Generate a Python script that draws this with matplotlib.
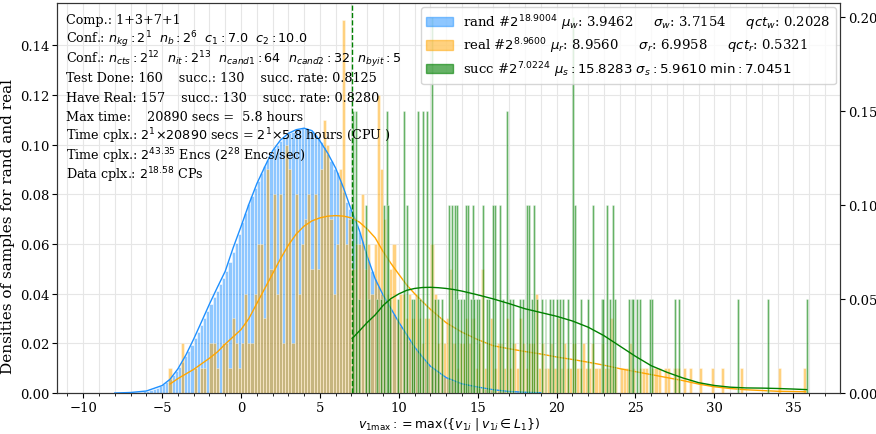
import numpy as np
import matplotlib
matplotlib.use('Agg')
import matplotlib.pyplot as plt
from matplotlib.patches import Patch
from matplotlib.ticker import MultipleLocator

plt.rcParams['font.family'] = 'DejaVu Serif'
plt.rcParams['mathtext.fontset'] = 'dejavusans'

# ---- rand: density of each 0.2 bin, first bin starts at -8.0
rand_start = -8.0
rand_dens = [
    0.0000, 0.0001, 0.0001, 0.0001, 0.0002,
    0.0002, 0.0003, 0.0004, 0.0005, 0.0007,
    0.0009, 0.0012, 0.0016, 0.0021, 0.0027,
    0.0035, 0.0045, 0.0057, 0.0071, 0.0087,
    0.0105, 0.0125, 0.0147, 0.0170, 0.0194,
    0.0220, 0.0246, 0.0274, 0.0302, 0.0330,
    0.0358, 0.0385, 0.0412, 0.0438, 0.0464,
    0.0492, 0.0528, 0.0566, 0.0604, 0.0642,
    0.0690, 0.0725, 0.0760, 0.0795, 0.0826,
    0.0855, 0.0885, 0.0912, 0.0938, 0.0962,
    0.0985, 0.1000, 0.1014, 0.1026, 0.1036,
    0.1045, 0.1052, 0.1058, 0.1063, 0.1066,
    0.1066, 0.1062, 0.1054, 0.1044, 0.1030,
    0.1012, 0.0990, 0.0964, 0.0934, 0.0900,
    0.0890, 0.0850, 0.0810, 0.0770, 0.0740,
    0.0710, 0.0680, 0.0650, 0.0610, 0.0570,
    0.0530, 0.0490, 0.0460, 0.0430, 0.0400,
    0.0380, 0.0360, 0.0340, 0.0320, 0.0290,
    0.0270, 0.0250, 0.0230, 0.0210, 0.0190,
    0.0175, 0.0160, 0.0145, 0.0130, 0.0115,
    0.0102, 0.0091, 0.0081, 0.0072, 0.0065,
    0.0059, 0.0054, 0.0049, 0.0045, 0.0041,
    0.0037, 0.0034, 0.0031, 0.0028, 0.0025,
    0.0022, 0.0020, 0.0018, 0.0016, 0.0014,
    0.0012, 0.0010, 0.0009, 0.0008, 0.0007,
    0.0006, 0.0005, 0.0004, 0.0003, 0.0003,
    0.0002, 0.0002, 0.0001, 0.0001, 0.0001,
]

# ---- real: sample count of each 0.2 bin, first bin starts at -4.6
real_start = -4.6
real_cnt = [
    1, 0, 0, 0, 2,   0, 0, 0, 1, 0,   1, 1, 0, 2, 2,   1, 0, 2, 2, 1,
    3, 2, 1, 2, 4,   2, 2, 4, 6, 6,   3, 9, 5, 8, 4,   8, 2, 10, 9, 2,
    8, 4, 6, 7, 8,   5, 8, 5, 9, 11,  10, 7, 4, 6, 9,  15, 6, 7, 5, 6,
    6, 8, 5, 6, 4,   6, 12, 9, 7, 4,  5, 6, 3, 4, 4,   3, 4, 3, 4, 3,
    2, 3, 3, 6, 4,   2, 3, 2, 3, 5,   2, 1, 2, 2, 3,   2, 3, 1, 2, 5,
    1, 2, 3, 1, 2,   2, 1, 3, 1, 2,   1, 3, 2, 1, 2,   2, 4, 1, 2, 1,
    1, 2, 1, 3, 1,   2, 1, 1, 2, 1,   1, 2, 1, 1, 2,   1, 1, 2, 1, 1,
    3, 1, 0, 1, 1,   1, 2, 1, 0, 1,   1, 1, 0, 1, 1,   1, 0, 1, 1, 0,
    1, 1, 0, 1, 0,   1, 0, 0, 1, 0,   0, 0, 1, 0, 0,   1, 0, 0, 0, 0,
    0, 1, 0, 0, 0,   0, 0, 0, 0, 0,   0, 0, 0, 1, 0,   0, 0, 0, 0, 0,
    0, 1,
]
real_unit = 0.01  # density of a single real sample

# ---- succ: bars (position, count), density of one sample on right axis
succ_x = [7.12, 7.29, 9.23, 10.35, 11.20, 11.55, 11.81, 16.84,
          12.08, 21.06,
          7.92, 9.08, 9.34, 10.50, 13.20, 13.39, 13.56, 13.67, 14.26, 14.41, 14.68,
          15.36, 15.95, 16.10, 16.41, 18.10, 18.25, 18.57, 21.17, 22.33, 23.17, 23.60,
          7.50, 8.10, 8.60, 8.85, 9.44, 9.97, 10.82, 10.96, 11.34, 12.29, 12.50, 12.72,
          13.77, 13.92, 14.13, 14.55, 14.79, 14.94, 15.10, 15.57, 15.74, 16.62, 17.05,
          17.26, 17.68, 17.85, 18.42, 18.74, 19.05, 19.30, 19.58, 19.79, 20.00, 20.20,
          20.43, 20.74, 21.53, 22.01, 22.86, 22.96, 23.38, 23.70, 24.61, 24.76, 24.86,
          25.07, 25.29, 25.92, 26.07, 27.50, 27.78, 31.50, 33.42, 35.85]
succ_n = [3, 3, 3, 3, 3, 3, 3, 3,
          4, 4,
          2, 2, 2, 2, 2, 2, 2, 2, 2, 2, 2,
          2, 2, 2, 2, 2, 2, 2, 2, 2, 2, 2,
          1, 1, 1, 1, 1, 1, 1, 1, 1, 1, 1, 1,
          1, 1, 1, 1, 1, 1, 1, 1, 1, 1, 1,
          1, 1, 1, 1, 1, 1, 1, 1, 1, 1, 1,
          1, 1, 1, 1, 1, 1, 1, 1, 1, 1, 1,
          1, 1, 1, 1, 1, 1, 1, 1, 1]
succ_unit = 0.05
succ_min = 7.0451

# ---- kde curves
rand_kde_x = [-8, -7, -6, -5, -4.5, -4, -3.5, -3, -2.5, -2, -1.5, -1, -0.5, 0, 0.5, 1, 1.5,
              2, 2.5, 3, 3.5, 4, 4.5, 5, 5.5, 6, 6.5, 7, 7.5, 8, 8.5, 9, 9.5, 10, 10.5,
              11, 11.5, 12, 13, 14, 15, 16, 17, 18, 19]
rand_kde_y = [0.0000, 0.0002, 0.0008, 0.0030, 0.0055, 0.0097, 0.0152, 0.0217, 0.0287,
              0.0358, 0.0425, 0.0490, 0.0584, 0.0670, 0.0760, 0.0842, 0.0910, 0.0975,
              0.1018, 0.1045, 0.1060, 0.1066, 0.1056, 0.1015, 0.0965, 0.0905, 0.0825,
              0.0735, 0.0655, 0.0550, 0.0460, 0.0395, 0.0340, 0.0285, 0.0235, 0.0185,
              0.0145, 0.0108, 0.0062, 0.0037, 0.0024, 0.0013, 0.0006, 0.0003, 0.0001]
real_kde_x = [-4.5, -4, -3, -2, -1.5, -1, 0, 0.5, 1, 1.5, 2, 2.5, 3, 3.5, 4, 4.5, 5, 5.5,
              6, 6.5, 7, 7.5, 8, 8.5, 9, 9.5, 10, 10.5, 11, 11.5, 12, 13, 14, 15, 16, 17,
              18, 19, 20, 21, 22, 23, 24, 25, 26, 27, 28, 29, 30, 31, 32, 33, 34, 35, 35.8]
real_kde_y = [0.0036, 0.0058, 0.0095, 0.0140, 0.0165, 0.0197, 0.0255, 0.0300, 0.0360,
              0.0420, 0.0480, 0.0540, 0.0595, 0.0640, 0.0672, 0.0693, 0.0705, 0.0712,
              0.0714, 0.0712, 0.0705, 0.0688, 0.0660, 0.0625, 0.0570, 0.0522, 0.0478,
              0.0435, 0.0400, 0.0368, 0.0337, 0.0283, 0.0245, 0.0215, 0.0190, 0.0178,
              0.0167, 0.0157, 0.0145, 0.0135, 0.0124, 0.0112, 0.0098, 0.0086, 0.0074,
              0.0062, 0.0050, 0.0036, 0.0025, 0.0018, 0.0013, 0.0010, 0.0007, 0.0006, 0.0005]
succ_kde_x = [7.05, 7.5, 8, 8.5, 9, 9.5, 10, 10.5, 11, 11.5, 12, 12.5, 13, 13.5, 14, 15, 16,
              17, 18, 19, 20, 21, 22, 23, 24, 25, 26, 27, 28, 29, 30, 31, 32, 33, 34, 35, 35.85]
succ_kde_y = [0.0290, 0.0330, 0.0375, 0.0415, 0.0465, 0.0502, 0.0527, 0.0546, 0.0556,
              0.0561, 0.0562, 0.0560, 0.0556, 0.0550, 0.0542, 0.0522, 0.0500, 0.0475,
              0.0448, 0.0428, 0.0408, 0.0383, 0.0350, 0.0305, 0.0250, 0.0195, 0.0145,
              0.0110, 0.0080, 0.0055, 0.0040, 0.0031, 0.0027, 0.0026, 0.0024, 0.0021, 0.0018]

legend_labels = [
    r"rand #$2^{18.9004}$ $\mu_w$: 3.9462     $\sigma_w$: 3.7154     $qct_w$: 0.2028",
    r"real #$2^{8.9600}$ $\mu_r$: 8.9560     $\sigma_r$: 6.9958     $qct_r$: 0.5321",
    r"succ #$2^{7.0224}$ $\mu_s:15.8283$ $\sigma_s:5.9610$ $\min:7.0451$",
]
info_lines = [
    r"Comp.: 1+3+7+1",
    r"Conf.: $n_{kg}:2^{1}$  $n_b:2^{6}$  $c_1:7.0$  $c_2:10.0$",
    r"Conf.: $n_{cts}:2^{12}$  $n_{it}:2^{13}$  $n_{cand1}:64$  $n_{cand2}:32$  $n_{byit}:5$",
    r"Test Done: 160    succ.: 130    succ. rate: 0.8125",
    r"Have Real: 157    succ.: 130    succ. rate: 0.8280",
    r"Max time:    20890 secs =  5.8 hours",
    r"Time cplx.: $2^{1}{\times}20890$ secs = $2^{1}{\times}5.8$ hours (CPU )",
    r"Time cplx.: $2^{43.35}$ Encs ($2^{28}$ Encs/sec)",
    r"Data cplx.: $2^{18.58}$ CPs",
]

bw = 0.2
sbw = 0.12

fig = plt.figure(figsize=(8.76, 4.35), dpi=100)
ax = fig.add_axes([57 / 876, 41 / 435, 783 / 876, 390 / 435])
ax2 = ax.twinx()

rx = rand_start + bw * np.arange(len(rand_dens))
ax.bar(rx, rand_dens, width=bw, align='edge', color='dodgerblue', alpha=0.5,
       edgecolor='white', linewidth=0.7, zorder=2)
qx = real_start + bw * np.arange(len(real_cnt))
ax.bar(qx, np.array(real_cnt) * real_unit, width=bw, align='edge', color='orange',
       alpha=0.5, edgecolor='white', linewidth=0.5, zorder=3)
ax.plot(rand_kde_x, rand_kde_y, color='dodgerblue', lw=1, zorder=4)
ax.plot(real_kde_x, real_kde_y, color='orange', lw=1, zorder=4)

ax2.bar(succ_x, np.array(succ_n) * succ_unit, width=sbw, color='green', alpha=0.6,
        edgecolor='white', linewidth=0.4)
ax2.plot(succ_kde_x, succ_kde_y, color='green', lw=1)
ax2.axvline(succ_min, color='green', ls='--', lw=1)

ax.set_xlim(-11.66, 37.96)
ax.set_ylim(0, 0.157)
ax2.set_ylim(0, 0.2074)
ax.xaxis.set_major_locator(MultipleLocator(5))
ax.xaxis.set_minor_locator(MultipleLocator(1))
ax.yaxis.set_major_locator(MultipleLocator(0.02))
ax2.yaxis.set_major_locator(MultipleLocator(0.05))
ax.yaxis.set_major_formatter(plt.FormatStrFormatter('%.2f'))
ax2.yaxis.set_major_formatter(plt.FormatStrFormatter('%.2f'))
ax.grid(True, which='both', axis='x', color='#e6e6e6', lw=0.8, zorder=0)
ax.grid(True, which='major', axis='y', color='#e6e6e6', lw=0.8, zorder=0)
ax.set_axisbelow(True)
for a in (ax, ax2):
    a.tick_params(labelsize=9.5, pad=2)
    for s in a.spines.values():
        s.set_color('#333333')

ax.set_ylabel("Densities of samples for rand and real", fontsize=11)
ax.yaxis.set_label_coords(-0.054, 0.43)
ax.set_xlabel(r"$v_{1\mathrm{max}}:=\max(\{v_{1i}\mid v_{1i}\in L_1\})$", fontsize=9,
              labelpad=1)

handles = [Patch(color='dodgerblue', alpha=0.5), Patch(color='orange', alpha=0.5),
           Patch(color='green', alpha=0.6)]
ax2.legend(handles, legend_labels, loc='upper right', fontsize=9.5, framealpha=0.8,
           borderaxespad=0.3, labelspacing=0.3)

for i, line in enumerate(info_lines):
    ax2.text(9 / 783, 1 - (20 + 19.45 * i) / 390, line, transform=ax2.transAxes,
             fontsize=9.2, va='baseline', ha='left')

fig.savefig('out.png', dpi=100)
